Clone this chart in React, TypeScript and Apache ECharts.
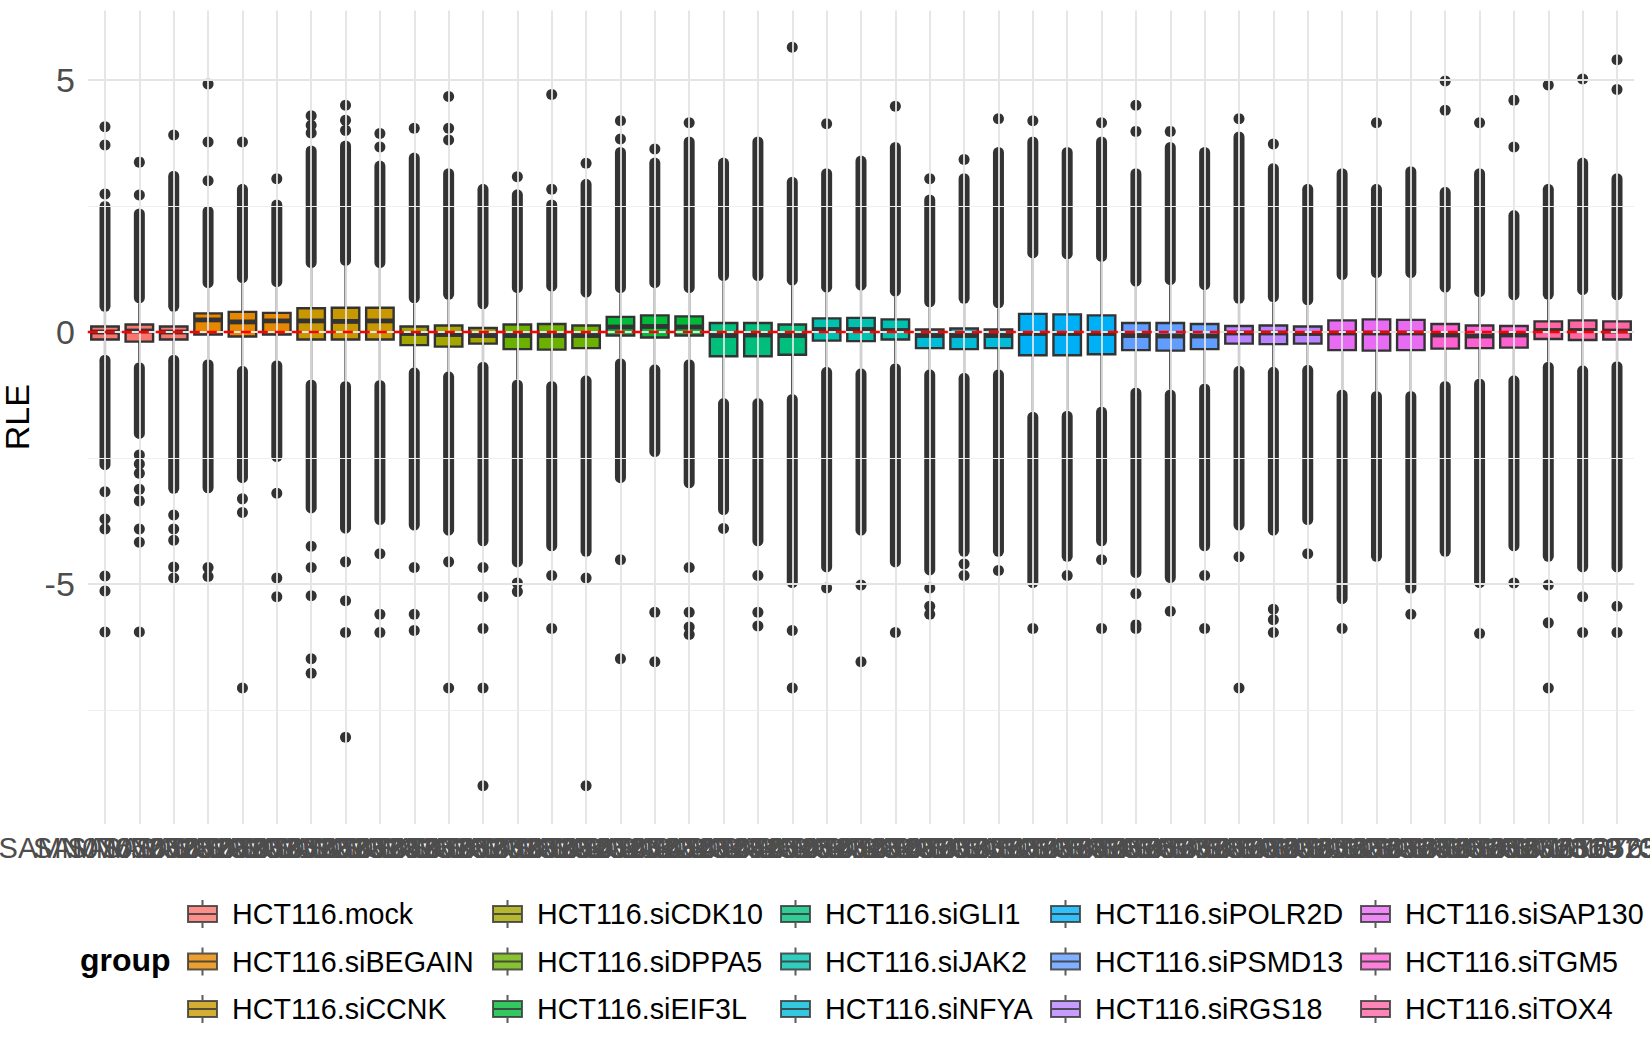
import { useEffect, useRef } from "react";
import * as echarts from "echarts";

// sample ids on the x axis (one box per sample, 3 replicates per group)
const samples = [
  "SAMN07652328", "SAMN07652329", "SAMN07652330", "SAMN07652331", "SAMN07652332",
  "SAMN07652333", "SAMN07652334", "SAMN07652335", "SAMN07652336", "SAMN07652337",
  "SAMN07652338", "SAMN07652339", "SAMN07652340", "SAMN07652341", "SAMN07652342",
  "SAMN07652343", "SAMN07652344", "SAMN07652345", "SAMN07652346", "SAMN07652347",
  "SAMN07652348", "SAMN07652349", "SAMN07652350", "SAMN07652351", "SAMN07652352",
  "SAMN07652353", "SAMN07652354", "SAMN07652355", "SAMN07652356", "SAMN07652357",
  "SAMN07652358", "SAMN07652359", "SAMN07652360", "SAMN07652361", "SAMN07652362",
  "SAMN07652363", "SAMN07652364", "SAMN07652365", "SAMN07652366", "SAMN07652367",
  "SAMN07652368", "SAMN07652369", "SAMN07652370", "SAMN07652371", "SAMN07652372",
];

const groups = [
  "HCT116.mock", "HCT116.siBEGAIN", "HCT116.siCCNK", "HCT116.siCDK10", "HCT116.siDPPA5",
  "HCT116.siEIF3L", "HCT116.siGLI1", "HCT116.siJAK2", "HCT116.siNFYA", "HCT116.siPOLR2D",
  "HCT116.siPSMD13", "HCT116.siRGS18", "HCT116.siSAP130", "HCT116.siTGM5", "HCT116.siTOX4",
];

const groupColors = [
  "#F8766D", "#E58700", "#C99800", "#A3A500", "#6BB100",
  "#00BA38", "#00BF7D", "#00C0AF", "#00BCD8", "#00B0F6",
  "#619CFF", "#B983FF", "#E76BF3", "#FD61D1", "#FF67A4",
];

// box statistics per sample
const whiskerLow = [
  -0.45, -0.6, -0.45, -0.54, -0.67, -0.56, -0.94, -0.97, -0.95, -0.7, -0.78, -0.59, -0.94, -0.97, -0.86,
  -0.52, -0.64, -0.54, -1.31, -1.31, -1.23, -0.69, -0.72, -0.62, -0.74, -0.81, -0.74, -1.58, -1.56, -1.48,
  -1.1, -1.14, -1.02, -0.67, -0.69, -0.65, -1.14, -1.17, -1.17, -0.97, -0.92, -0.86, -0.59, -0.66, -0.58,
];
const q1 = [
  -0.15, -0.19, -0.15, -0.05, -0.09, -0.05, -0.15, -0.15, -0.15, -0.26, -0.29, -0.23, -0.34, -0.35, -0.32,
  -0.07, -0.11, -0.07, -0.48, -0.48, -0.45, -0.17, -0.18, -0.15, -0.32, -0.34, -0.32, -0.46, -0.46, -0.44,
  -0.36, -0.37, -0.34, -0.23, -0.24, -0.23, -0.36, -0.37, -0.36, -0.33, -0.32, -0.31, -0.14, -0.16, -0.15,
];
const median = [
  0, 0.02, 0, 0.24, 0.2, 0.22, 0.22, 0.21, 0.22, -0.03, -0.05, -0.07, -0.07, -0.07, -0.07,
  0.1, 0.11, 0.1, -0.07, -0.06, -0.07, 0.05, 0.05, 0.03, -0.07, -0.07, -0.07, -0.03, -0.03, -0.03,
  -0.07, -0.08, -0.08, -0.02, -0.02, -0.03, -0.02, -0.02, -0.02, -0.06, -0.08, -0.06, 0.03, 0.03, 0.02,
];
const q3 = [
  0.11, 0.15, 0.11, 0.37, 0.4, 0.38, 0.47, 0.48, 0.48, 0.11, 0.13, 0.08, 0.15, 0.16, 0.13,
  0.3, 0.33, 0.31, 0.18, 0.18, 0.15, 0.27, 0.28, 0.25, 0.05, 0.07, 0.05, 0.36, 0.35, 0.33,
  0.18, 0.18, 0.16, 0.12, 0.13, 0.11, 0.23, 0.25, 0.24, 0.16, 0.13, 0.12, 0.21, 0.23, 0.21,
];
const whiskerHigh = [
  0.4, 0.57, 0.4, 0.87, 0.97, 0.89, 1.27, 1.31, 1.27, 0.57, 0.64, 0.45, 0.77, 0.8, 0.68,
  0.77, 0.87, 0.77, 1.01, 1.01, 0.92, 0.78, 0.82, 0.7, 0.49, 0.56, 0.47, 1.46, 1.44, 1.39,
  0.9, 0.93, 0.83, 0.56, 0.59, 0.53, 1.03, 1.07, 1.07, 0.78, 0.69, 0.63, 0.64, 0.73, 0.63,
];

// the outliers are so dense that they merge into a solid run beyond each whisker
const upperRunEnd = [
  2.6, 2.45, 3.2, 2.5, 2.94, 2.63, 3.7, 3.8, 3.4, 3.56, 3.25, 2.94, 2.83, 2.63, 3.04,
  3.67, 3.46, 3.88, 3.46, 3.88, 3.08, 3.25, 3.5, 3.77, 2.73, 3.15, 3.67, 3.88, 3.67, 3.88,
  3.25, 3.77, 3.67, 3.98, 3.35, 2.94, 3.25, 2.94, 3.29, 2.88, 3.25, 2.42, 2.94, 3.46, 3.15,
];
const lowerRunEnd = [
  -2.74, -2.12, -3.21, -3.2, -3.0, -2.58, -3.6, -4.0, -3.83, -3.94, -4.04, -4.25, -4.67, -4.35, -4.46,
  -3.0, -2.48, -3.1, -3.63, -4.25, -5.08, -4.77, -4.04, -4.67, -4.83, -4.46, -4.46, -5.08, -4.56, -4.25,
  -4.88, -4.98, -4.35, -3.94, -4.04, -3.83, -5.4, -4.56, -5.19, -4.46, -5.08, -4.35, -4.56, -4.77, -4.77,
];

// isolated outliers beyond the runs
const outliers = [
  [2.74, 3.71, 4.07, -3.17, -3.71, -3.91, -4.84, -5.14, -5.95],
  [2.72, 3.37, -2.44, -2.62, -2.8, -3.12, -3.35, -3.91, -4.17, -5.95],
  [3.91, -3.63, -3.91, -4.13, -4.66, -4.88],
  [3.0, 3.77, 4.92, -4.67, -4.85],
  [3.77, -3.31, -3.58, -7.06],
  [3.04, -3.2, -4.88, -5.25],
  [3.95, 4.1, 4.29, -4.25, -4.67, -5.23, -6.48, -6.77],
  [4.0, 4.2, 4.5, -4.56, -5.33, -5.96, -8.04],
  [3.67, 3.94, -4.4, -5.6, -5.96],
  [4.04, -4.67, -5.6, -5.92],
  [3.81, 4.04, 4.67, -4.56, -7.06],
  [-4.67, -5.25, -5.88, -7.06, -9.0],
  [3.08, -4.98, -5.15],
  [2.83, 4.71, -4.83, -5.88],
  [3.35, -4.88, -9.0],
  [3.83, 4.19, -4.52, -6.48],
  [3.63, -5.56, -6.54],
  [4.15, -4.67, -5.56, -5.85, -6.0],
  [-3.9],
  [-4.83, -5.56, -5.83],
  [5.65, -5.92, -7.06],
  [4.13, -5.08],
  [-5.02, -6.54],
  [4.48, -5.96],
  [3.04, -5.08, -5.44, -5.6],
  [3.42, -4.6, -4.83],
  [4.23, -4.73],
  [4.19, -5.88],
  [-4.83],
  [4.15, -4.52, -5.88],
  [3.98, 4.5, -5.19, -5.81, -5.88],
  [3.98, -5.54],
  [-4.83, -5.88],
  [4.23, -4.46, -7.06],
  [3.73, -5.5, -5.71, -5.96],
  [-4.4],
  [-5.88],
  [4.15],
  [-5.6],
  [4.4, 4.98],
  [4.15, -5.98],
  [3.67, 4.6, -4.98],
  [4.9, -5.02, -5.77, -7.06],
  [5.02, -5.25, -5.96],
  [4.81, 5.4, -5.44, -5.96],
];

const yTicks = [-5, 0, 5];
const yMinorTicks = [-7.5, -2.5, 2.5];

const FONT = '"Liberation Sans", Arial, Helvetica, sans-serif';
const INK = "#333333";
const DOT = 11;

function renderBox(_params: any, api: any) {
  const i = api.value(0);
  const x = api.coord([i, 0])[0];
  const half = api.size([1, 0])[0] * 0.4;
  const y = (k: number) => api.coord([i, api.value(k)])[1];
  const yLo = y(1);
  const yQ1 = y(2);
  const yMed = y(3);
  const yQ3 = y(4);
  const yHi = y(5);
  return {
    type: "group",
    children: [
      { type: "line", shape: { x1: x, y1: yHi, x2: x, y2: yQ3 }, style: { stroke: INK, lineWidth: 2.2 } },
      { type: "line", shape: { x1: x, y1: yQ1, x2: x, y2: yLo }, style: { stroke: INK, lineWidth: 2.2 } },
      {
        type: "rect",
        shape: { x: x - half, y: yQ3, width: half * 2, height: yQ1 - yQ3 },
        style: { fill: groupColors[Math.floor(i / 3)], stroke: INK, lineWidth: 2.4 },
      },
      {
        type: "line",
        shape: { x1: x - half, y1: yMed, x2: x + half, y2: yMed },
        style: { stroke: INK, lineWidth: 4.8 },
      },
    ],
  };
}

function renderRuns(_params: any, api: any) {
  const i = api.value(0);
  const x = api.coord([i, 0])[0];
  const y = (k: number) => api.coord([i, api.value(k)])[1];
  const r = DOT / 2;
  const style = { stroke: INK, lineWidth: DOT, lineCap: "round" };
  return {
    type: "group",
    children: [
      { type: "line", shape: { x1: x, y1: y(1) - r, x2: x, y2: y(2) + r }, style },
      { type: "line", shape: { x1: x, y1: y(3) + r, x2: x, y2: y(4) - r }, style },
    ],
  };
}

export default function App() {
  const chartRef = useRef<HTMLDivElement>(null);

  useEffect(() => {
    document.body.style.margin = "0";
    if (!chartRef.current) return;
    const chart = echarts.init(chartRef.current, undefined, { renderer: "svg" });

    const boxData = samples.map((_, i) => [i, whiskerLow[i], q1[i], median[i], q3[i], whiskerHigh[i]]);
    const runData = samples.map((_, i) => [i, whiskerHigh[i], upperRunEnd[i], whiskerLow[i], lowerRunEnd[i]]);
    const dotData: number[][] = [];
    outliers.forEach((vals, i) => vals.forEach((v) => dotData.push([i, v])));

    const major = { color: "#E4E4E4", width: 1.8, type: "solid" };
    const minor = { color: "#EFEFEF", width: 1, type: "solid" };

    const legendLefts = [187, 492, 780, 1050, 1360];

    chart.setOption({
      animation: false,
      textStyle: { fontFamily: FONT },
      grid: {
        left: 87.8,
        right: 15.8,
        top: 10.4,
        bottom: 226,
        containLabel: false,
        outerBoundsMode: "none",
      },
      xAxis: {
        type: "category",
        data: samples,
        boundaryGap: true,
        axisLine: { show: false },
        axisTick: { show: false },
        splitLine: { show: false },
        axisLabel: { interval: 0, fontSize: 29, color: "#4D4D4D", margin: 9, fontFamily: FONT, hideOverlap: false },
      },
      yAxis: {
        type: "value",
        min: -9.76,
        max: 6.38,
        name: "RLE",
        nameLocation: "middle",
        nameRotate: 90,
        nameGap: 47,
        nameTextStyle: { fontSize: 34, color: "#000", fontFamily: FONT },
        axisLine: { show: false },
        axisTick: { show: false },
        splitLine: { show: false },
        axisLabel: { customValues: yTicks, fontSize: 34, color: "#4D4D4D", margin: 13, fontFamily: FONT },
      },
      title: {
        text: "group",
        left: 80,
        top: 944,
        padding: 0,
        textStyle: { fontSize: 32, fontWeight: "bold", color: "#000", fontFamily: FONT },
      },
      legend: legendLefts.map((left, col) => ({
        orient: "vertical",
        left,
        top: 898,
        padding: 0,
        itemWidth: 29,
        itemHeight: 28,
        itemGap: 15.5,
        selectedMode: false,
        icon: "path://M0 6H29V22H0Z M14.5 0V6 M14.5 22V28 M0 14H29",
        data: groups.slice(col * 3, col * 3 + 3),
        textStyle: { fontSize: 28.7, color: "#000", fontFamily: FONT, padding: [0, 0, 0, 10], lineHeight: 32 },
      })),
      series: [
        {
          type: "line",
          data: [],
          silent: true,
          z: 0,
          markLine: {
            silent: true,
            symbol: ["none", "none"],
            label: { show: false },
            data: [
              ...samples.map((_, i) => ({ xAxis: i, lineStyle: major })),
              ...yMinorTicks.map((v) => ({ yAxis: v, lineStyle: minor })),
              ...yTicks.map((v) => ({ yAxis: v, lineStyle: major })),
            ],
          },
        },
        {
          type: "custom",
          data: runData,
          encode: { x: 0, y: [1, 2, 3, 4] },
          renderItem: renderRuns,
          silent: true,
          z: 2,
        },
        {
          type: "scatter",
          data: dotData,
          symbolSize: DOT,
          itemStyle: { color: INK, opacity: 1 },
          silent: true,
          z: 2,
        },
        {
          type: "custom",
          data: boxData,
          encode: { x: 0, y: [1, 2, 3, 4, 5] },
          renderItem: renderBox,
          silent: true,
          z: 3,
        },
        {
          type: "line",
          data: [],
          silent: true,
          z: 10,
          markLine: {
            silent: true,
            symbol: ["none", "none"],
            label: { show: false },
            lineStyle: { color: "#FF0000", width: 2.4, type: [10, 7] },
            data: [{ yAxis: 0 }],
          },
        },
        ...groups.map((name, g) => ({
          type: "scatter",
          name,
          data: [],
          itemStyle: { color: groupColors[g], borderColor: INK, borderWidth: 2 },
        })),
      ],
    });

    return () => chart.dispose();
  }, []);

  return <div ref={chartRef} style={{ width: 1650, height: 1050 }} />;
}
